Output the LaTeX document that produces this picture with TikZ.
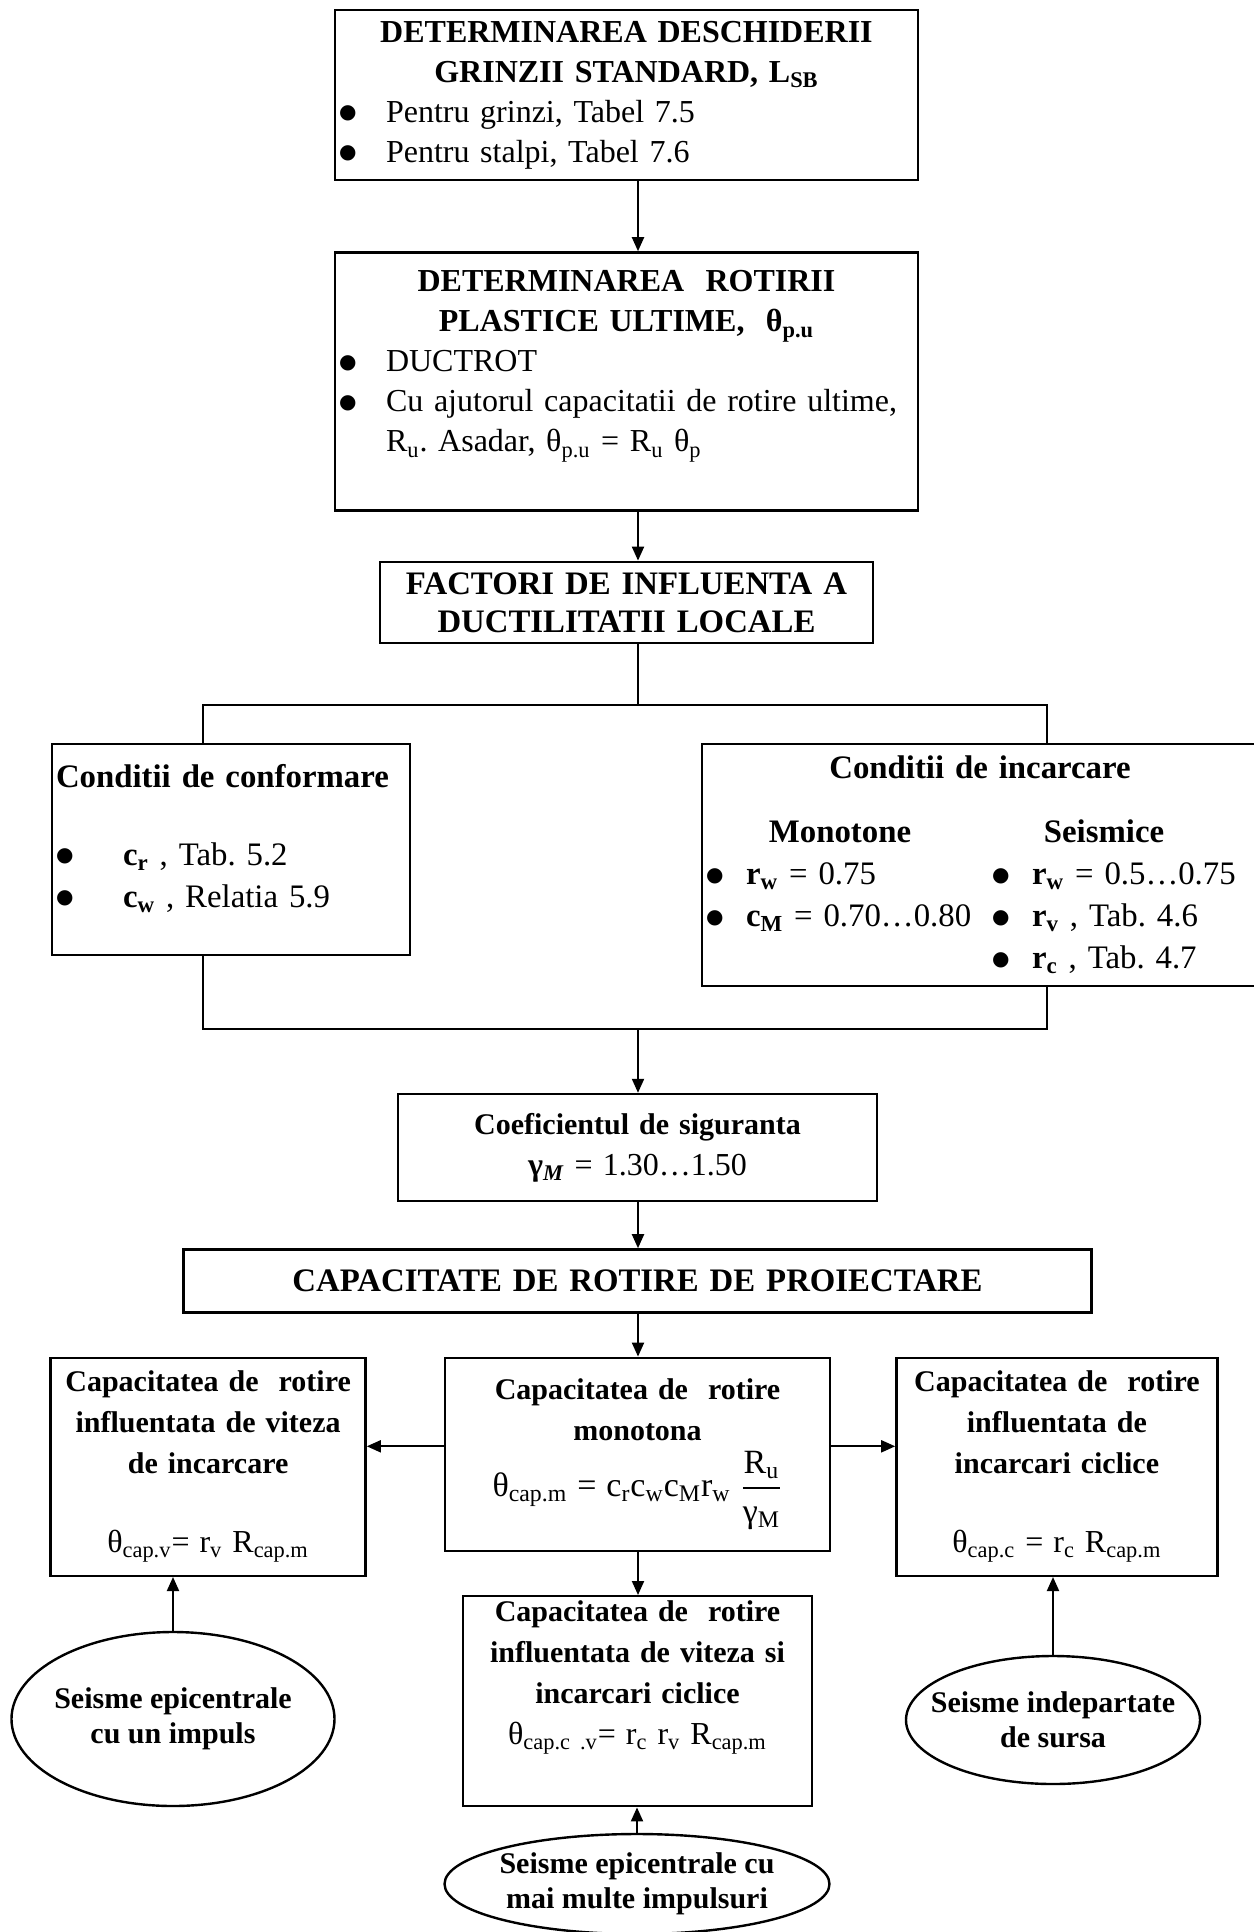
\documentclass[tikz,border=0pt]{standalone}
\usepackage{fontspec}
\usepackage{amsmath}
\setmainfont{Liberation Serif}
\newfontfamily\dotfont{DejaVu Sans}
\usetikzlibrary{arrows.meta, positioning, shapes.geometric}

\frenchspacing
\newcommand{\bdot}{\raisebox{1.6pt}{\dotfont\fontsize{10}{10}\selectfont ●}}
\newcommand{\blt}[2][23.5pt]{\makebox[\linewidth][l]{\makebox[#1][l]{\bdot}#2}}
\newcommand{\bitem}[1]{\makebox[20pt][l]{\bdot}#1}
\newcommand{\twocol}[2]{\makebox[\linewidth][l]{\makebox[143pt][l]{#1}#2}}

\begin{document}
\begin{tikzpicture}[
  x=0.5pt, y=-0.5pt,
  flow/.style={
    rectangle,
    draw,
    line width=1.2pt,
    align=center,
    inner xsep=2pt,
    inner ysep=2pt
  },
  topfont/.style={font=\fontsize{16}{20}\selectfont},
  midfont/.style={font=\fontsize{16.4}{21}\selectfont},
  lowfont/.style={font=\fontsize{15}{20.5}\selectfont},
  seism/.style={
    ellipse,
    draw,
    line width=1.2pt,
    inner xsep=-20pt,
    inner ysep=0pt,
    align=center,
    font=\bfseries\fontsize{15}{17.5}\selectfont
  },
  arr/.style={-{Triangle[length=7pt, width=6pt]}, line width=1pt},
  conn/.style={line width=1pt},
]

\useasboundingbox (0,0) rectangle (1253,1932);

\coordinate (axis) at (638,0);

\node[flow, topfont, text width=287.5pt, minimum height=85pt] (lsb) at (626.5,95) {
  \textbf{DETERMINAREA DESCHIDERII}\\
  \textbf{GRINZII STANDARD, L\textsubscript{SB}}\\
  \blt{Pentru grinzi, Tabel 7.5}\\
  \blt{Pentru stalpi, Tabel 7.6}};

\node[flow, topfont, text width=287.5pt, minimum height=129pt,
  below=35pt of lsb] (rot) {
  \textbf{DETERMINAREA\ \ ROTIRII}\\
  \textbf{PLASTICE ULTIME,\ \ θ\textsubscript{p.u}}\\
  \blt{DUCTROT}\\
  \blt{Cu ajutorul capacitatii de rotire ultime,}\\
  \makebox[\linewidth][l]{\hspace*{23.5pt}R\textsubscript{u}. Asadar, θ\textsubscript{p.u} = R\textsubscript{u} θ\textsubscript{p}}\\
  \mbox{}};

\node[flow, font=\bfseries\fontsize{16.4}{19}\selectfont, text width=242.5pt,
  minimum height=40.5pt, inner ysep=1pt, below=24.5pt of rot] (fact) {
  FACTORI DE INFLUENTA A\\
  DUCTILITATII LOCALE};

\node[flow, midfont, text width=175pt, minimum height=105.5pt] (conf) at (231,849.5) {
  \makebox[\linewidth][l]{\textbf{Conditii de conformare}}\\[18pt]
  \blt[33.5pt]{\textbf{c\textsubscript{r}} , Tab. 5.2}\\
  \blt[33.5pt]{\textbf{c\textsubscript{w}} , Relatia 5.9}\\[-7pt]
  \mbox{}};

\node[flow, midfont, text width=274pt, minimum height=121pt] (inc) at (980,865) {
  \textbf{Conditii de incarcare}\\[11pt]
  \makebox[\linewidth][l]{\makebox[134pt][c]{\textbf{Monotone}}\makebox[130pt][c]{\textbf{Seismice}}}\\
  \twocol{\bitem{\textbf{r\textsubscript{w}} = 0.75}}{\bitem{\textbf{r\textsubscript{w}} = 0.5…0.75}}\\
  \twocol{\bitem{\textbf{c\textsubscript{M}} = 0.70…0.80}}{\bitem{\textbf{r\textsubscript{v}} , Tab. 4.6}}\\
  \twocol{}{\bitem{\textbf{r\textsubscript{c}} , Tab. 4.7}}};

\node[flow, lowfont, text width=235.5pt, minimum height=53.5pt] (coef) at (637.5,1147.5) {
  \textbf{Coeficientul de siguranta}\\
  {\fontsize{16}{20}\selectfont\textbf{γ\textsubscript{\textit{M}}} = 1.30…1.50}};

\node[flow, font=\bfseries\fontsize{16.4}{20}\selectfont, text width=450pt,
  minimum height=31.5pt, below=23pt of coef] (cap) {
  CAPACITATE DE ROTIRE DE PROIECTARE};

\node[flow, lowfont, text width=188.5pt, minimum height=96.5pt,
  below=21.5pt of cap] (mono) {
  \textbf{Capacitatea de\ \ rotire}\\
  \textbf{monotona}\\[4pt]
  {\fontsize{17}{20}\selectfont θ\textsubscript{cap.m} = c\textsubscript{r}c\textsubscript{w}c\textsubscript{M}r\textsubscript{w}
  $\dfrac{\text{R\textsubscript{u}}\rule[-5pt]{0pt}{0pt}}{\rule{0pt}{15pt}\text{γ\textsubscript{M}}}$}};

\node[flow, lowfont, text width=153.5pt, minimum height=109pt,
  below left=0pt and 38.5pt of mono.north west] (vit) {
  \textbf{Capacitatea de\ \ rotire}\\
  \textbf{influentata de viteza}\\
  \textbf{de incarcare}\\[19pt]
  {\fontsize{16}{20}\selectfont θ\textsubscript{cap.v}= r\textsubscript{v} R\textsubscript{cap.m}}};

\node[flow, lowfont, text width=156.5pt, minimum height=109pt,
  below right=0pt and 32pt of mono.north east] (cic) {
  \textbf{Capacitatea de\ \ rotire}\\
  \textbf{influentata de}\\
  \textbf{incarcari ciclice}\\[19pt]
  {\fontsize{16}{20}\selectfont θ\textsubscript{cap.c} = r\textsubscript{c} R\textsubscript{cap.m}}};

\node[flow, lowfont, text width=170.5pt, minimum height=105pt,
  below=21.5pt of mono] (vc) {
  \textbf{Capacitatea de\ \ rotire}\\
  \textbf{influentata de viteza si}\\
  \textbf{incarcari ciclice}\\
  {\fontsize{16}{20}\selectfont θ\textsubscript{cap.c .v}= r\textsubscript{c} r\textsubscript{v} R\textsubscript{cap.m}}\\[8pt]
  \mbox{}};

\node[seism, minimum width=161.5pt, minimum height=87pt] (imp) at (173,1719) {
  Seisme epicentrale\\cu un impuls};

\node[seism, minimum width=147pt, minimum height=64pt] (dep) at (1053,1720) {
  Seisme indepartate\\de sursa};

\node[seism, minimum width=192.5pt, minimum height=50pt] (multi) at (637,1884) {
  Seisme epicentrale cu\\mai multe impulsuri};

\coordinate (split l) at (203,705);
\coordinate (split r) at (1047,705);
\coordinate (join l) at (203,1029);
\coordinate (join r) at (1047,1029);

\draw[arr] (lsb.south -| axis) -- (rot.north -| axis);
\draw[arr] (rot.south -| axis) -- (fact.north -| axis);
\draw[conn] (fact.south -| axis) -- (split l -| axis);
\draw[conn] (conf.north -| split l) -- (split l) -- (split r) -- (inc.north -| split r);
\draw[conn] (conf.south -| join l) -- (join l) -- (join r) -- (inc.south -| join r);
\draw[arr] (join l -| axis) -- (coef.north -| axis);
\draw[arr] (coef.south -| axis) -- (cap.north -| axis);
\draw[arr] (cap.south -| axis) -- (mono.north -| axis);
\draw[arr] (mono.south -| axis) -- (vc.north -| axis);
\draw[arr] ([yshift=4pt]mono.west) -- ([yshift=4pt]mono.west -| vit.east);
\draw[arr] ([yshift=4pt]mono.east) -- ([yshift=4pt]mono.east -| cic.west);
\draw[arr] (imp.north) -- (imp.north |- vit.south);
\draw[arr] (dep.north) -- (dep.north |- cic.south);
\draw[arr] (multi.north) -- (multi.north |- vc.south);

\end{tikzpicture}
\end{document}
